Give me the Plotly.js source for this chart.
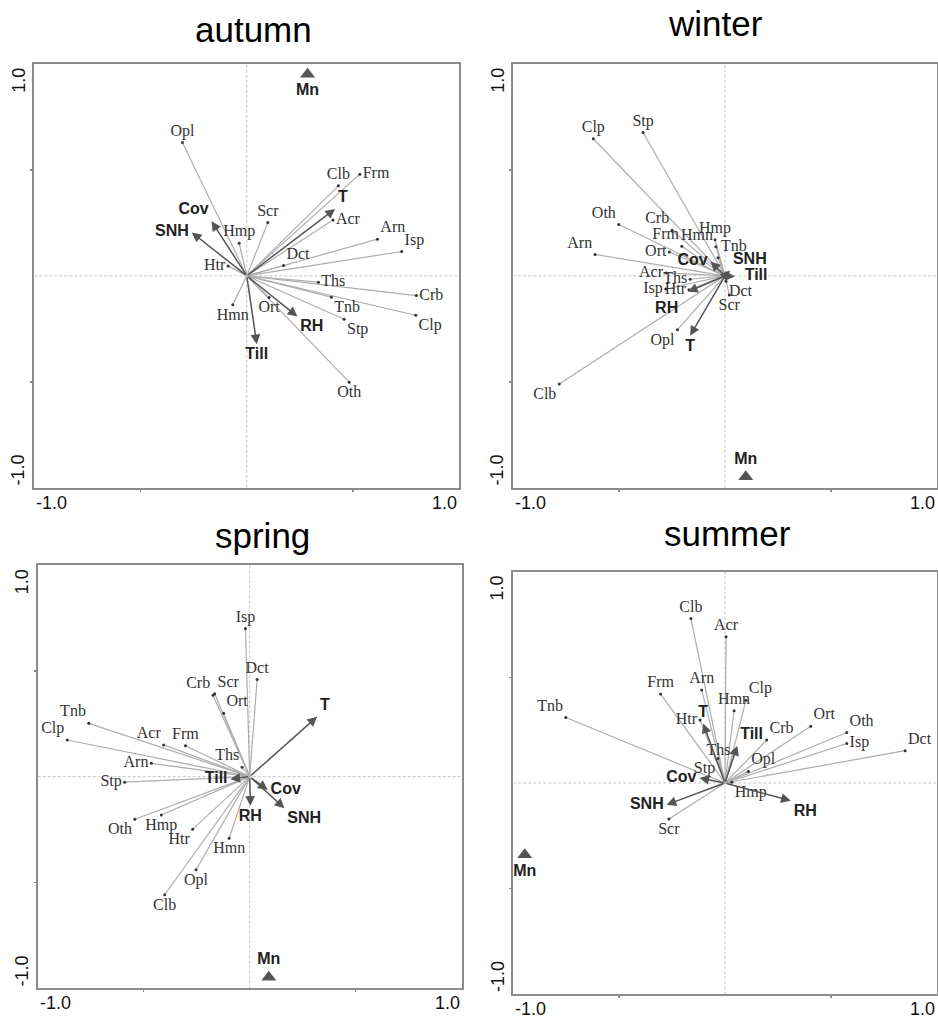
<!DOCTYPE html>
<html><head><meta charset="utf-8">
<script src="https://cdn.plot.ly/plotly-3.0.1.min.js"></script>
<style>html,body{margin:0;padding:0;background:#fff}#chart{width:938px;height:1018px}</style>
</head><body><div id="chart"></div>
<script>
// ---------- DATA ----------
const species = ['Acr','Arn','Clb','Clp','Crb','Dct','Frm','Hmn','Hmp','Htr','Isp','Opl','Ort','Oth','Scr','Stp','Ths','Tnb'];
const envVars = ['T','Cov','SNH','RH','Till'];
const seasons = ['autumn','winter','spring','summer'];

const autumnSpX = [0.406,0.615,0.431,0.795,0.798,0.173,0.532,-0.066,-0.036,-0.088,0.729,-0.303,0.105,0.482,0.099,0.458,0.337,0.398];
const autumnSpY = [0.264,0.173,0.425,-0.186,-0.093,0.049,0.480,-0.137,0.154,0.047,0.115,0.629,-0.102,-0.502,0.252,-0.205,-0.030,-0.101];
const autumnEnvX = [0.416,-0.166,-0.259,0.238,0.047];
const autumnEnvY = [0.316,0.258,0.205,-0.192,-0.323];
const autumnMn = [0.286,0.952];

const winterSpX = [-0.279,-0.614,-0.783,-0.622,-0.250,0.005,-0.204,-0.043,-0.047,-0.170,-0.280,-0.225,-0.263,-0.502,0.020,-0.387,-0.165,-0.033];
const winterSpY = [0.014,0.101,-0.511,0.647,0.215,-0.025,0.140,0.137,0.170,-0.066,-0.062,-0.255,0.113,0.242,-0.090,0.677,-0.016,0.085];
const winterEnvX = [-0.165,-0.068,0.024,-0.175,0.047];
const winterEnvY = [-0.283,0.068,0.025,-0.075,-0.003];
const winterMn = [0.098,-0.948];

const springSpX = [-0.406,-0.464,-0.401,-0.861,-0.173,0.035,-0.303,-0.097,-0.417,-0.269,-0.020,-0.253,-0.123,-0.542,-0.165,-0.590,-0.036,-0.759];
const springSpY = [0.150,0.063,-0.558,0.173,0.385,0.459,0.146,-0.291,-0.181,-0.248,0.700,-0.440,0.299,-0.201,0.392,-0.026,0.044,0.252];
const springEnvX = [0.318,0.085,0.164,0.003,-0.091];
const springEnvY = [0.283,-0.063,-0.149,-0.138,-0.012];
const springMn = [0.090,-0.948];

const summerSpX = [0.005,-0.110,-0.161,0.099,0.197,0.851,-0.304,0.043,0.032,-0.118,0.575,0.110,0.405,0.575,-0.265,-0.033,0.040,-0.752];
const summerSpY = [0.692,0.440,0.778,0.392,0.203,0.153,0.421,0.342,0.003,0.298,0.187,0.055,0.268,0.239,-0.170,0.116,0.150,0.310];
const summerEnvX = [-0.103,-0.121,-0.276,0.311,0.058];
const summerEnvY = [0.282,0.024,-0.103,-0.084,0.176];
const summerMn = [-0.946,-0.339];

const tickLabels = ['-1.0','1.0'];

// ---------- LAYOUT CONFIG ----------
const W = 938, H = 1018;
const panels = [
  {sp:[autumnSpX,autumnSpY], env:[autumnEnvX,autumnEnvY], mn:autumnMn, box:[34.3,459.3,64,487.7], title:[253,30],
   sp_pos:{Acr:'middle right',Arn:'top right',Clb:'top center',Clp:'bottom right',Crb:'middle right',Dct:'top right',Frm:'middle right',Hmn:'bottom center',Hmp:'top center',Htr:'middle left',Isp:'top right',Opl:'top center',Ort:'bottom center',Oth:'bottom center',Scr:'top center',Stp:'bottom right',Ths:'middle right',Tnb:'bottom right'},
   env_pos:{T:'top right',Cov:'top left',SNH:'middle left',RH:'bottom right',Till:'bottom center'}, env_gap:{}, mn_pos:'bottom center'},
  {sp:[winterSpX,winterSpY], env:[winterEnvX,winterEnvY], mn:winterMn, box:[513.3,936.7,64,487.7], title:[715,23],
   sp_pos:{Acr:'middle left',Arn:'top left',Clb:'bottom left',Clp:'top center',Crb:'top left',Dct:'bottom right',Frm:'top left',Hmn:'top left',Hmp:'top center',Htr:'middle left',Isp:'middle left',Opl:'bottom left',Ort:'middle left',Oth:'top left',Scr:'bottom center',Stp:'top center',Ths:'middle left',Tnb:'top right'},
   env_pos:{T:'bottom center',Cov:'middle left',SNH:'top right',RH:'bottom left',Till:'middle right'}, env_gap:{RH:14, Till:14}, mn_pos:'top center'},
  {sp:[springSpX,springSpY], env:[springEnvX,springEnvY], mn:springMn, box:[37.7,461.7,565,988.3], title:[262,535],
   sp_pos:{Acr:'top left',Arn:'middle left',Clb:'bottom center',Clp:'top left',Crb:'top left',Dct:'top center',Frm:'top center',Hmn:'bottom center',Hmp:'bottom center',Htr:'bottom left',Isp:'top center',Opl:'bottom center',Ort:'top right',Oth:'bottom left',Scr:'top right',Stp:'middle left',Ths:'top left',Tnb:'top left'},
   env_pos:{T:'top right',Cov:'middle right',SNH:'bottom right',RH:'bottom center',Till:'middle left'}, env_gap:{}, mn_pos:'top center'},
  {sp:[summerSpX,summerSpY], env:[summerEnvX,summerEnvY], mn:summerMn, box:[513.3,936.7,571.7,994.3], title:[727,533],
   sp_pos:{Acr:'top center',Arn:'top center',Clb:'top center',Clp:'top right',Crb:'top right',Dct:'top right',Frm:'top center',Hmn:'top center',Hmp:'bottom right',Htr:'middle left',Isp:'middle right',Opl:'top right',Ort:'top right',Oth:'top right',Scr:'bottom center',Stp:'bottom left',Ths:'middle left',Tnb:'top left'},
   env_pos:{T:'top center',Cov:'middle left',SNH:'middle left',RH:'bottom right',Till:'top right'}, env_gap:{}, mn_pos:'bottom center'}
];

const serif = 'Liberation Serif, Times New Roman, serif';
const sans = 'Liberation Sans, Arial, sans-serif';

const traces = [];
const annotations = [];
const shapes = [];
const layout = {
  width: W, height: H, margin:{l:0,r:0,t:0,b:0},
  paper_bgcolor:'#fff', plot_bgcolor:'#fff', showlegend:false,
  annotations, shapes
};

panels.forEach((p, i) => {
  const s = i === 0 ? '' : String(i + 1);
  const xa = 'x' + s, ya = 'y' + s;
  const [x0, x1, y0, y1] = p.box;
  const axisCommon = {
    range:[-1,1], showline:true, mirror:true, linecolor:'#8c8c8c', linewidth:2,
    ticks:'outside', ticklen:2, tickcolor:'#8c8c8c', tickwidth:1.5,
    tickvals:[-0.5,0.5], showticklabels:false, showgrid:false, zeroline:false, fixedrange:true
  };
  layout['xaxis' + s] = Object.assign({}, axisCommon, {domain:[x0/W, x1/W], anchor: ya});
  layout['yaxis' + s] = Object.assign({}, axisCommon, {domain:[1 - y1/H, 1 - y0/H], anchor: xa});

  // dashed centre lines
  shapes.push({type:'line', xref:xa, yref:ya, x0:-1, x1:1, y0:0, y1:0, line:{color:'#c4c4c4', width:1, dash:'3px,2px'}, layer:'below'});
  shapes.push({type:'line', xref:xa, yref:ya, x0:0, x1:0, y0:-1, y1:1, line:{color:'#c4c4c4', width:1, dash:'3px,2px'}, layer:'below'});

  const [sx, sy] = p.sp;
  // species lines
  const lx = [], ly = [];
  sx.forEach((v, k) => { lx.push(0, v, null); ly.push(0, sy[k], null); });
  traces.push({type:'scatter', mode:'lines', x:lx, y:ly, xaxis:xa, yaxis:ya,
    line:{color:'#adadad', width:1.2}, hoverinfo:'skip'});
  // species points + labels
  traces.push({type:'scatter', mode:'markers+text', x:sx, y:sy, xaxis:xa, yaxis:ya,
    text:species, textposition:species.map(n => p.sp_pos[n]),
    marker:{size:3, color:'#333'}, textfont:{family:serif, size:16, color:'#333'}, cliponaxis:false});

  // environmental arrows
  const [ex, ey] = p.env;
  ex.forEach((v, k) => {
    annotations.push({xref:xa, yref:ya, axref:xa, ayref:ya, x:v, y:ey[k], ax:0, ay:0, text:'',
      showarrow:true, arrowhead:2, arrowsize:1.3, arrowwidth:1.5, arrowcolor:'#555', standoff:0});
  });
  traces.push({type:'scatter', mode:'markers+text', x:ex, y:ey, xaxis:xa, yaxis:ya,
    text:envVars, textposition:envVars.map(n => p.env_pos[n]),
    marker:{size:envVars.map(n => p.env_gap[n] || 3), opacity:0}, textfont:{family:sans, size:16, color:'#222', weight:'bold'}, cliponaxis:false});

  // Mn
  traces.push({type:'scatter', mode:'markers+text', x:[p.mn[0]], y:[p.mn[1]], xaxis:xa, yaxis:ya,
    text:['Mn'], textposition:p.mn_pos, marker:{symbol:'triangle-up', size:13, color:'#555'},
    textfont:{family:sans, size:16, color:'#222', weight:'bold'}, cliponaxis:false});

  // tick labels
  const tf = {family:sans, size:18, color:'#111'};
  annotations.push({xref:xa+' domain', yref:ya+' domain', x:0, y:0, xanchor:'left', yanchor:'top', yshift:-3, text:tickLabels[0], showarrow:false, font:tf});
  annotations.push({xref:xa+' domain', yref:ya+' domain', x:1, y:0, xanchor:'right', yanchor:'top', yshift:-3, text:tickLabels[1], showarrow:false, font:tf});
  annotations.push({xref:xa+' domain', yref:ya+' domain', x:0, y:1, xanchor:'right', yanchor:'top', xshift:-4, yshift:-2, textangle:-90, text:tickLabels[1], showarrow:false, font:tf});
  annotations.push({xref:xa+' domain', yref:ya+' domain', x:0, y:0, xanchor:'right', yanchor:'bottom', xshift:-4, textangle:-90, text:tickLabels[0], showarrow:false, font:tf});

  // title
  annotations.push({xref:'paper', yref:'paper', x:p.title[0]/W, y:1 - p.title[1]/H, xanchor:'center', yanchor:'middle',
    text:seasons[i], showarrow:false, font:{family:sans, size:35, color:'#000'}});
});

Plotly.newPlot('chart', traces, layout, {staticPlot:true, displayModeBar:false});
</script>
</body></html>
